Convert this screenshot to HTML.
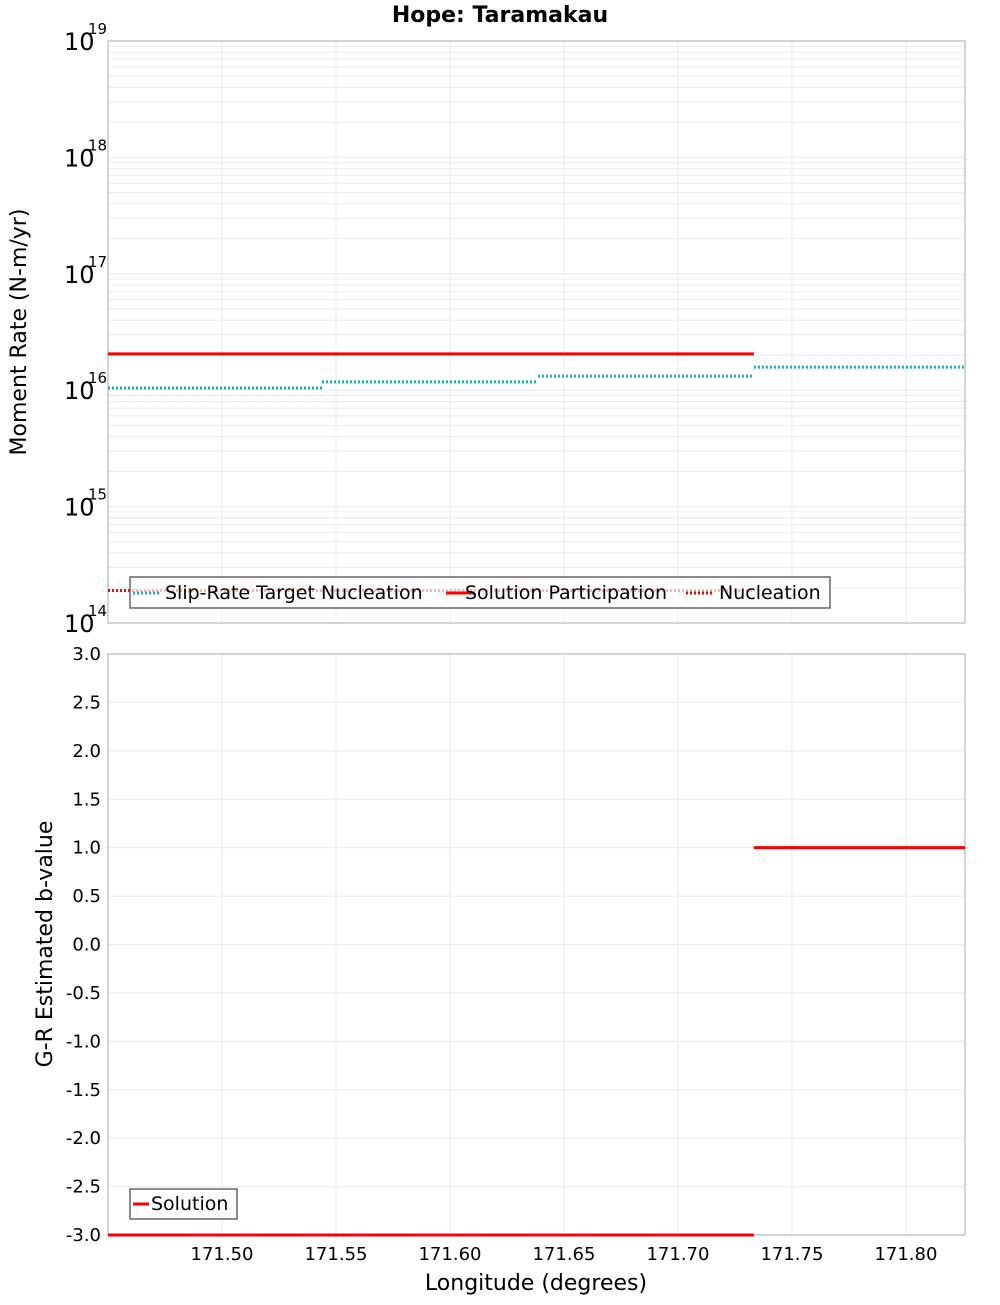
<!DOCTYPE html>
<html><head><meta charset="utf-8"><style>
body{margin:0;background:#fff;font-family:"Liberation Sans","DejaVu Sans",sans-serif}
</style></head><body>
<svg id="c" width="1000" height="1300" xmlns="http://www.w3.org/2000/svg" font-family="DejaVu Sans, Liberation Sans, sans-serif">
<text x="500" y="22" text-anchor="middle" font-size="22" font-weight="bold">Hope: Taramakau</text>
<g id="topPanel"></g>
<g id="botPanel"></g>
<text transform="translate(26,332) rotate(-90)" text-anchor="middle" font-size="22">Moment Rate (N-m/yr)</text>
<text transform="translate(52,944) rotate(-90)" text-anchor="middle" font-size="22">G-R Estimated b-value</text>
<text x="536" y="1290" text-anchor="middle" font-size="22">Longitude (degrees)</text>
</svg>
<script>
const segEdges=[171.45,171.5439,171.6386,171.7333,171.8259];
const participation=[2.05e16,2.05e16,2.05e16,null];
const target=[1.045e16,1.18e16,1.32e16,1.58e16];
const nucleation=[1.9e14,1.9e14,1.9e14,null];
const bvalue=[-3,-3,-3,1];
const xTicks=[171.50,171.55,171.60,171.65,171.70,171.75,171.80];
const logTicks=[14,15,16,17,18,19];
const bTicks=[3,2.5,2,1.5,1,0.5,0,-0.5,-1,-1.5,-2,-2.5,-3];

const NS="http://www.w3.org/2000/svg";
const L=108,R=965,T1=41,B1=623,T2=654,B2=1235,X0=171.45,X1=171.8259;
const sx=v=>L+(v-X0)/(X1-X0)*(R-L);
const sy1=v=>B1-(Math.log10(v)-14)/5*(B1-T1);
const sy2=v=>B2-(v+3)/6*(B2-T2);
function mk(p,tag,at){const e=document.createElementNS(NS,tag);for(const k in at)e.setAttribute(k,at[k]);p.appendChild(e);return e;}
const topG=document.getElementById('topPanel'),botG=document.getElementById('botPanel');
for(const t of xTicks){const x=sx(t);
 let g=mk(topG,'line',{x1:x,x2:x,y1:T1,y2:B1,stroke:'#ebebeb'});
 
 
 g=mk(botG,'line',{x1:x,x2:x,y1:T2,y2:B2,stroke:'#ebebeb'});
 
 
 const tx=mk(botG,'text',{x:x,y:B2+25,'text-anchor':'middle','font-size':18});tx.textContent=t.toFixed(2);
 
 
}
for(let d=14;d<19;d++)for(let m=1;m<=9;m++){const y=sy1(m*Math.pow(10,d));
 const g=mk(topG,'line',{x1:L,x2:R,y1:y,y2:y,stroke:'#ebebeb'});
 
 }
for(const t of logTicks){const y=sy1(Math.pow(10,t));
 const tx=mk(topG,'text',{x:64,y:y+9,'font-size':24});tx.textContent='10';
 
 
 const s=mk(topG,'text',{x:88,y:y-7,'font-size':15});s.textContent=String(t);
 
 }
for(const t of bTicks){const y=sy2(t);
 const g=mk(botG,'line',{x1:L,x2:R,y1:y,y2:y,stroke:'#ebebeb'});
 
 
 const tx=mk(botG,'text',{x:101,y:y+6,'text-anchor':'end','font-size':18});tx.textContent=t.toFixed(1);
 
 }
let f=mk(topG,'rect',{x:L,y:T1,width:R-L,height:B1-T1,fill:'none',stroke:'#aaa'});


f=mk(botG,'rect',{x:L,y:T2,width:R-L,height:B2-T2,fill:'none',stroke:'#aaa'});


function seg(p,arr,sy,st,dash,name){arr.forEach((v,i)=>{if(v==null)return;const y=sy(v);
 const a={x1:sx(segEdges[i]),x2:sx(segEdges[i+1]),y1:y,y2:y,stroke:st,'stroke-width':3};if(dash)a['stroke-dasharray']='2,2';
 const l=mk(p,'line',a);
 
 });}
seg(topG,nucleation,sy1,'#f00',true,'nucleation-segment');
seg(topG,target,sy1,'#1aaeae',true,'target-nucleation-segment');
seg(topG,participation,sy1,'#f00',false,'participation-segment');
seg(botG,bvalue,sy2,'#f00',false,'bvalue-segment');
const lg=mk(topG,'g',{});


mk(lg,'rect',{x:130,y:577,width:700,height:31,fill:'rgba(255,255,255,0.7)',stroke:'#666','stroke-width':1.5});
const items=[['Slip-Rate Target Nucleation','#1aaeae',true,133,165],['Solution Participation','#f00',false,446,465],['Nucleation','#f00',true,686,719]];
for(const [t,c,d,lx,tx] of items){const a={x1:lx,x2:lx+28,y1:593,y2:593,stroke:c,'stroke-width':3};if(d)a['stroke-dasharray']='2,2';
 const l=mk(lg,'line',a);
 
 
 const e=mk(lg,'text',{x:tx,y:599,'font-size':19});e.textContent=t;
 
 }
const lg2=mk(botG,'g',{});


mk(lg2,'rect',{x:130,y:1189,width:107,height:30,fill:'#fff',stroke:'#666','stroke-width':1.5});
const l2=mk(lg2,'line',{x1:133,x2:149,y1:1204,y2:1204,stroke:'#f00','stroke-width':3});


const t2=mk(lg2,'text',{x:151,y:1210,'font-size':19});t2.textContent='Solution';


</script>
</body></html>
